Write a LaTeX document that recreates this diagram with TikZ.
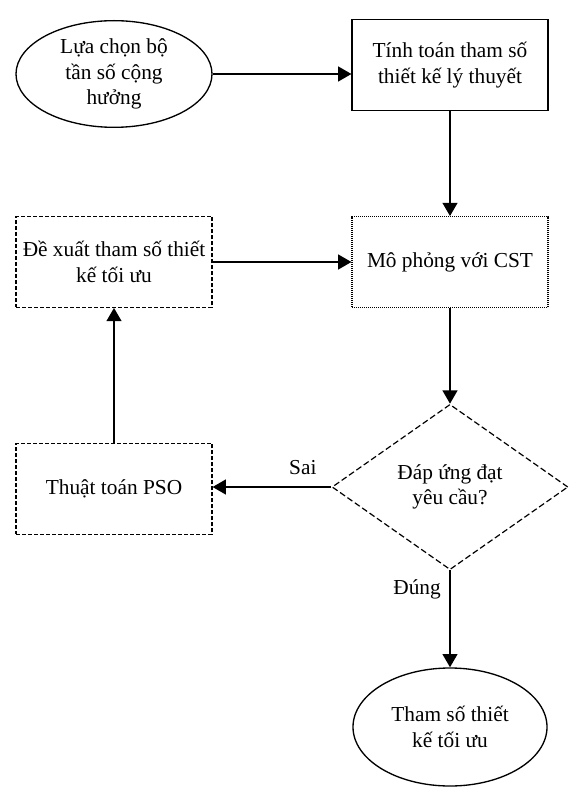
\documentclass[tikz,border=0pt]{standalone}
\usepackage{fontspec}
\setmainfont{Liberation Serif}
\usetikzlibrary{shapes.geometric, arrows.meta}
\tikzset{>={Triangle[length=10pt,width=11pt]}}
\tikzset{
    boxnode/.style={draw, line width=0.8pt, minimum width=147pt, minimum height=68pt, align=center, inner sep=0pt},
    ovalnode/.style={draw, ellipse, line width=1pt, align=center, inner sep=0pt},
    arr/.style={->, line width=1.8pt},
    lbl/.style={inner sep=2pt}
}

\begin{document}
\begin{tikzpicture}[x=0.75pt, y=-0.75pt, font=\fontsize{16}{19}\selectfont]
    \useasboundingbox (0,0) rectangle (568,787);
    \node[ovalnode, minimum width=147pt, minimum height=80pt] (luachon) at (114,74) {Lựa chọn bộ\\tần số cộng\\hưởng};
    \node[boxnode] (tinhtoan) at (450,65) {Tính toán tham số\\thiết kế lý thuyết};
    \node[boxnode, dash pattern=on 0.75pt off 0.75pt] (mophong) at (450,262) {Mô phỏng với CST};
    \node[boxnode, dash pattern=on 3pt off 1.5pt] (dexuat) at (114,262) {Đề xuất tham số thiết\\kế tối ưu};
    \node[boxnode, dash pattern=on 3pt off 1.5pt] (pso) at (114,489) {Thuật toán PSO};
    \node[diamond, draw, dash pattern=on 4.5pt off 2.25pt, line width=0.9pt, minimum width=177pt, minimum height=124pt, aspect=1.43, inner sep=0pt, align=center] (dapung) at (450,487) {Đáp ứng đạt\\yêu cầu?};
    \node[ovalnode, minimum width=145.5pt, minimum height=88.5pt] (thamso) at (450,727) {Tham số thiết\\kế tối ưu};
    \draw[arr] (luachon.east) -- (luachon.east -| tinhtoan.west);
    \draw[arr] (tinhtoan) -- (mophong);
    \draw[arr] (dexuat) -- (mophong);
    \draw[arr] (mophong) -- (dapung);
    \draw[arr] (dapung.west) -- (dapung.west -| pso.east) node[lbl, pos=0.24, above=6pt] {Sai};
    \draw[arr] (pso) -- (dexuat);
    \draw[arr] (dapung) -- (thamso) node[lbl, pos=0.2, left=4pt] {Đúng};
\end{tikzpicture}
\end{document}
